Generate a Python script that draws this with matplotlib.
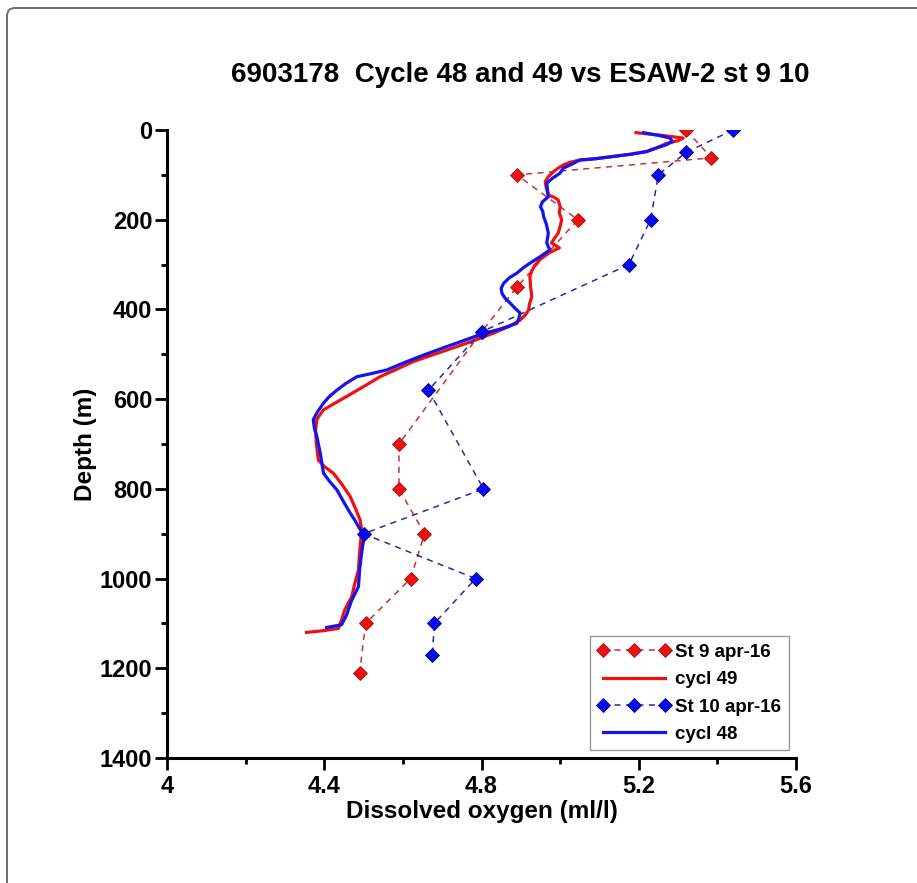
import matplotlib
matplotlib.use("Agg")
import matplotlib.pyplot as plt
from matplotlib.patches import FancyBboxPatch
from matplotlib.ticker import MultipleLocator

plt.rcParams['font.family'] = ['Liberation Sans', 'DejaVu Sans']

# Station 9 (April 2016) bottle data
st9_depth = [0, 62, 100, 200, 350, 450, 700, 800, 900, 1000, 1100, 1210]
st9_oxy = [5.32, 5.385, 4.89, 5.045, 4.89, 4.80, 4.59, 4.59, 4.655, 4.62, 4.505, 4.49]

# Station 10 (April 2016) bottle data
st10_depth = [0, 50, 100, 200, 300, 450, 580, 800, 900, 1000, 1100, 1170]
st10_oxy = [5.44, 5.32, 5.25, 5.23, 5.175, 4.80, 4.665, 4.805, 4.50, 4.785, 4.68, 4.675]

# Float cycle 49 profile
c49_depth = [6, 12, 18, 24, 30, 40, 48, 54, 59, 64, 67, 72, 78, 85, 93, 104, 115, 130, 145, 150, 156,
             170, 185, 200, 215, 230, 242, 252, 258, 263, 268, 275, 288, 301, 314, 327, 350, 372, 388,
             401, 412, 424, 438, 453, 468, 483, 500, 516, 533, 550, 572, 594, 610, 624, 636, 646, 670,
             700, 736, 750, 765, 790, 817, 845, 869, 890, 906, 940, 981, 1010, 1040, 1070, 1090, 1111,
             1116, 1120]
c49_oxy = [5.193, 5.26, 5.313, 5.30, 5.27, 5.245, 5.22, 5.18, 5.135, 5.09, 5.05, 5.025, 5.008, 4.995,
           4.983, 4.97, 4.962, 4.965, 4.97, 4.985, 4.995, 5.0, 4.998, 5.004, 5.0, 4.995, 4.985, 4.978,
           4.99, 4.998, 4.985, 4.97, 4.95, 4.936, 4.928, 4.923, 4.925, 4.928, 4.922, 4.92, 4.912, 4.898,
           4.87, 4.83, 4.785, 4.737, 4.68, 4.627, 4.585, 4.542, 4.50, 4.457, 4.425, 4.398, 4.388, 4.381,
           4.378, 4.38, 4.385, 4.40, 4.423, 4.445, 4.466, 4.48, 4.491, 4.495, 4.494, 4.49, 4.487, 4.478,
           4.47, 4.452, 4.445, 4.436, 4.40, 4.355]

# Float cycle 48 profile
c48_depth = [6, 12, 18, 26, 33, 40, 48, 54, 59, 64, 67, 76, 85, 96, 108, 119, 134, 149, 160, 171, 182,
             193, 210, 230, 252, 260, 267, 282, 297, 308, 319, 330, 342, 353, 364, 375, 386, 397, 408,
             420, 431, 443, 455, 475, 488, 502, 518, 535, 543, 550, 565, 580, 595, 609, 628, 646, 665,
             683, 721, 765, 785, 802, 830, 854, 870, 884, 906, 925, 944, 980, 1018, 1048, 1065, 1081,
             1103, 1106, 1109]
c48_oxy = [5.212, 5.25, 5.28, 5.285, 5.27, 5.245, 5.22, 5.18, 5.135, 5.09, 5.05, 5.03, 5.008, 5.0,
           4.98, 4.966, 4.968, 4.97, 4.955, 4.95, 4.956, 4.958, 4.965, 4.97, 4.966, 4.97, 4.974, 4.95,
           4.923, 4.905, 4.89, 4.87, 4.856, 4.85, 4.852, 4.86, 4.873, 4.885, 4.898, 4.895, 4.89, 4.85,
           4.80, 4.737, 4.695, 4.652, 4.605, 4.559, 4.52, 4.483, 4.455, 4.432, 4.412, 4.398, 4.383, 4.372,
           4.375, 4.381, 4.39, 4.398, 4.415, 4.432, 4.45, 4.466, 4.478, 4.487, 4.502, 4.498, 4.495, 4.49,
           4.487, 4.47, 4.463, 4.457, 4.444, 4.425, 4.406]

x_ticks = [4.0, 4.4, 4.8, 5.2, 5.6]
x_tick_labels = ['4', '4.4', '4.8', '5.2', '5.6']
y_ticks = [0, 200, 400, 600, 800, 1000, 1200, 1400]

W, H = 917, 883
fig = plt.figure(figsize=(W / 100, H / 100), dpi=100)
fig.patch.set_facecolor('white')

# outer rounded frame (only left and top edges visible)
frame = FancyBboxPatch((7 / W, -0.2), 1.3, 1.2 - 8 / H,
                       boxstyle="round,pad=0,rounding_size=0.009",
                       transform=fig.transFigure, facecolor='none',
                       edgecolor='#6e6e6e', linewidth=1.4, clip_on=False)
fig.patches.append(frame)

ax = fig.add_axes([167 / W, 1 - 758 / H, (796 - 167) / W, (758 - 130) / H])

red_line = '#ee1111'
blue_line = '#1414f0'

ax.plot(st9_oxy, st9_depth, linestyle=(0, (4, 3.5)), color='#c83232', linewidth=1.1,
        marker='D', markersize=6.8, markerfacecolor='#ee1111', markeredgecolor='#a01010',
        markeredgewidth=0.6, label='St 9 apr-16', zorder=3)
ax.plot(c49_oxy, c49_depth, color=red_line, linewidth=2.3, label='cycl 49', zorder=4,
        solid_joinstyle='round')
ax.plot(st10_oxy, st10_depth, linestyle=(0, (4, 3.5)), color='#2a2aa0', linewidth=1.1,
        marker='D', markersize=6.8, markerfacecolor='#0a0af0', markeredgecolor='#000090',
        markeredgewidth=0.6, label='St 10 apr-16', zorder=5)
ax.plot(c48_oxy, c48_depth, color=blue_line, linewidth=2.3, label='cycl 48', zorder=4.5,
        solid_joinstyle='round')

ax.set_xlim(4.0, 5.6)
ax.set_ylim(1400, 0)
ax.set_xticks(x_ticks)
ax.set_xticklabels(x_tick_labels)
ax.set_yticks(y_ticks)
ax.xaxis.set_minor_locator(MultipleLocator(0.2))
ax.yaxis.set_minor_locator(MultipleLocator(100))

for s in ['top', 'right']:
    ax.spines[s].set_visible(False)
for s in ['left', 'bottom']:
    ax.spines[s].set_linewidth(2.2)
    ax.spines[s].set_color('black')

ax.tick_params(axis='both', which='major', direction='out', length=8.5, width=2.0,
               labelsize=17)
ax.tick_params(axis='x', which='major', pad=4)
ax.tick_params(axis='y', which='major', pad=2)
ax.tick_params(axis='both', which='minor', direction='out', length=4.5, width=2.0)
for lab in ax.get_xticklabels() + ax.get_yticklabels():
    lab.set_fontweight('bold')

ax.set_xlabel('Dissolved oxygen (ml/l)', fontsize=17.5, fontweight='bold', labelpad=1)
ax.set_ylabel('Depth (m)', fontsize=17.5, fontweight='bold', labelpad=2)

fig.text(520 / W, 1 - 75 / H, '6903178  Cycle 48 and 49 vs ESAW-2 st 9 10',
         ha='center', va='center', fontsize=20, fontweight='bold')

leg = ax.legend(loc='upper left', bbox_to_anchor=((590 - 167) / 629, (758 - 636) / 628),
                borderaxespad=0, numpoints=3, frameon=True, fancybox=False,
                prop={'weight': 'bold', 'size': 13.5}, handlelength=3.9,
                handletextpad=0.25, labelspacing=0.55, borderpad=0.4)
leg.get_frame().set_edgecolor('#808080')
leg.get_frame().set_linewidth(1.0)

fig.savefig('out.png', dpi=100)
